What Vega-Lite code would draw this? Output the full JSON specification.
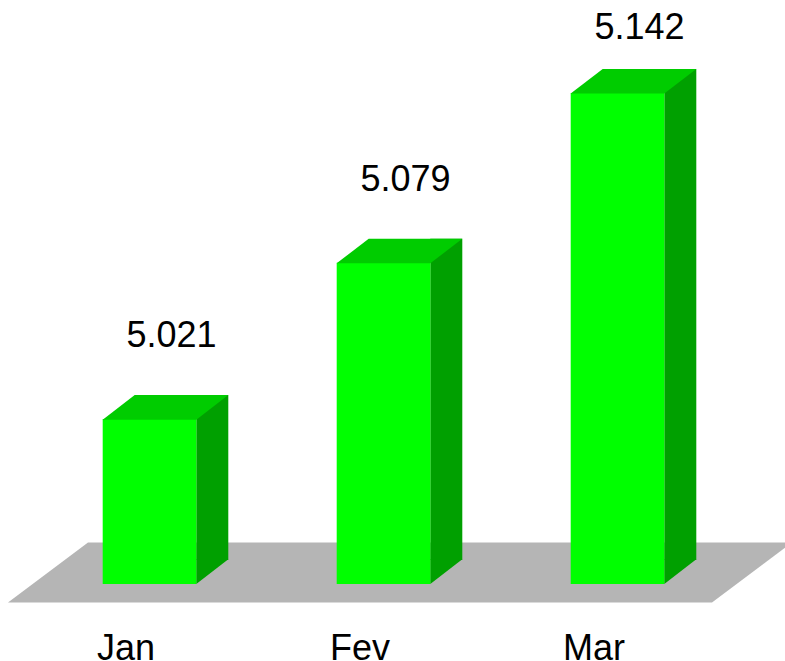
{
  "$schema": "https://vega.github.io/schema/vega-lite/v6.json",
  "width": 702,
  "height": 584,
  "autosize": {"type": "none"},
  "padding": {"left": 32.5, "top": 0, "right": 50.5, "bottom": 77},
  "background": "white",
  "config": {"view": {"stroke": null}, "font": "Liberation Sans"},
  "data": {
    "values": [
      {"month": "Jan", "value": 5.021},
      {"month": "Fev", "value": 5.079},
      {"month": "Mar", "value": 5.142}
    ]
  },
  "encoding": {
    "x": {
      "field": "month",
      "type": "nominal",
      "sort": ["Jan", "Fev", "Mar"],
      "scale": {"domain": ["Jan", "Fev", "Mar"], "paddingInner": 0.6, "paddingOuter": 0.3},
      "axis": {
        "title": null,
        "labelAngle": 0,
        "ticks": false,
        "tickSize": 0,
        "domain": false,
        "grid": false,
        "labelFontSize": 36,
        "labelFont": "Liberation Sans",
        "labelColor": "#000000",
        "labelOffset": -23.5,
        "labelPadding": 75,
        "labelBaseline": "alphabetic"
      }
    }
  },
  "layer": [
    {
      "transform": [{"filter": "datum.month === 'Fev'"}],
      "mark": {
        "type": "point",
        "shape": "M-1,0.0765L0.7959,0.0765L1,-0.0765L-0.7959,-0.0765Z",
        "size": 614656,
        "filled": true,
        "opacity": 1,
        "color": "#b5b5b5",
        "strokeWidth": 0,
        "xOffset": 16.5,
        "yOffset": -11.5
      },
      "encoding": {
        "y": {"datum": 4.9598, "type": "quantitative", "scale": {"domain": [4.9598, 5.1765], "zero": false, "nice": false}, "axis": null}
      }
    },
    {
      "mark": {"type": "bar", "width": 32, "xOffset": 62.8, "yOffset": -24, "y2Offset": -24, "color": "#00a000", "strokeWidth": 0},
      "encoding": {
        "y": {"field": "value", "type": "quantitative", "scale": {"domain": [4.9598, 5.1765], "zero": false, "nice": false}, "axis": null},
        "y2": {"datum": 4.9598}
      }
    },
    {
      "mark": {
        "type": "point",
        "shape": "M-1,-0.8L1,-0.8L-1,0.75Z",
        "size": 1024,
        "filled": true,
        "opacity": 1,
        "color": "#00a000",
        "strokeWidth": 0,
        "xOffset": 62.8,
        "yOffset": -12
      },
      "encoding": {
        "y": {"datum": 4.9598, "type": "quantitative", "axis": null}
      }
    },
    {
      "mark": {"type": "bar", "color": "#00ff00", "strokeWidth": 0},
      "encoding": {
        "y": {"field": "value", "type": "quantitative", "axis": null},
        "y2": {"datum": 4.9598}
      }
    },
    {
      "mark": {
        "type": "point",
        "shape": "M-1,0.2L0.4904,0.2L1,-0.191L-0.4904,-0.191Z",
        "size": 15775,
        "filled": true,
        "opacity": 1,
        "color": "#00cc00",
        "strokeWidth": 0,
        "xOffset": 16,
        "yOffset": -12
      },
      "encoding": {
        "y": {"field": "value", "type": "quantitative", "axis": null}
      }
    },
    {
      "transform": [{"filter": "datum.value < 5.1"}],
      "mark": {"type": "text", "fontSize": 36, "font": "Liberation Sans", "dx": 22, "dy": -72, "baseline": "alphabetic", "align": "center", "color": "#000000"},
      "encoding": {
        "y": {"field": "value", "type": "quantitative", "axis": null},
        "text": {"field": "value", "type": "quantitative", "format": ".3f"}
      }
    },
    {
      "transform": [{"filter": "datum.value >= 5.1"}],
      "mark": {"type": "text", "fontSize": 36, "font": "Liberation Sans", "dx": 22, "dy": -53.5, "baseline": "alphabetic", "align": "center", "color": "#000000"},
      "encoding": {
        "y": {"field": "value", "type": "quantitative", "axis": null},
        "text": {"field": "value", "type": "quantitative", "format": ".3f"}
      }
    }
  ]
}
